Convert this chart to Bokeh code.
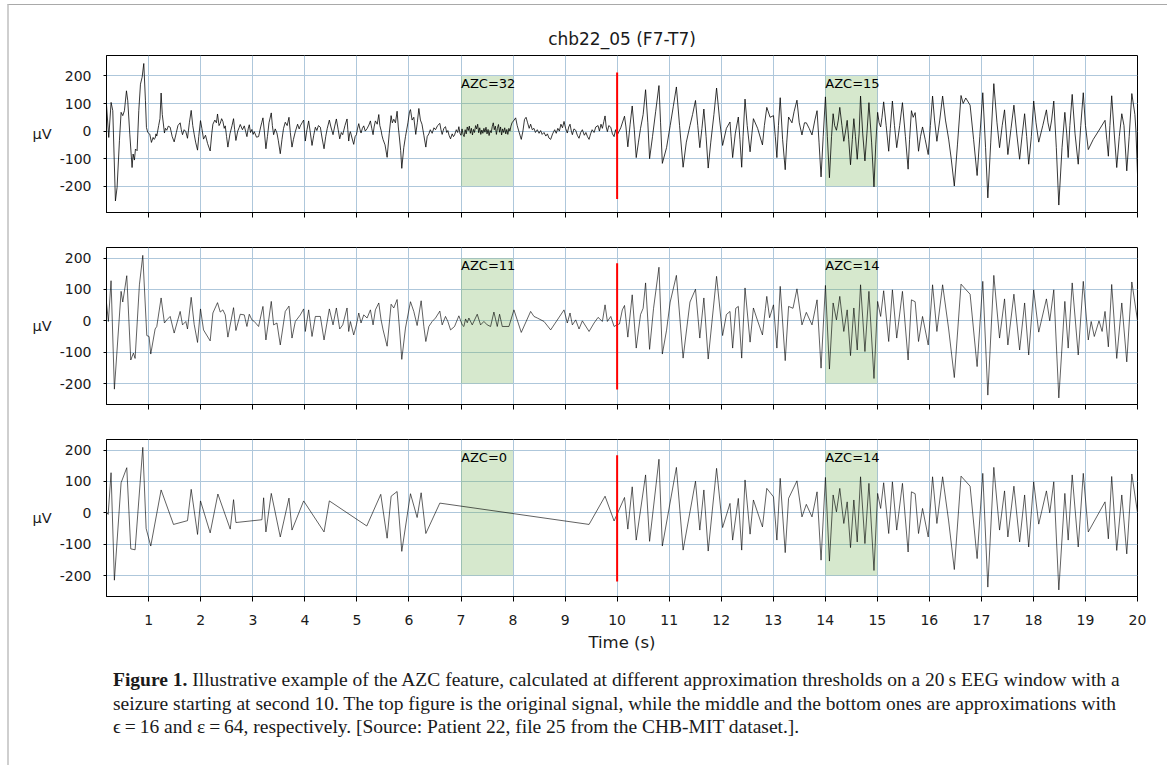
from bokeh.plotting import figure
from bokeh.models import Range1d, FixedTicker, Div
from bokeh.layouts import column
from bokeh.embed import file_html
from bokeh.resources import INLINE
from bokeh.core.properties import value

TITLE = "chb22_05 (F7-T7)"
X_START, X_END = 0.1875, 20.0
x_ticks = list(range(1, 21))
y_ticks = [-200, -100, 0, 100, 200]
y_tick_labels = {-200: "-200", -100: "-100", 0: "0", 100: "100", 200: "200"}
azc_left = [7, 14]
azc_right = [8, 15]
azc_bottom, azc_top = -200, 200
azc_labels = [["AZC=32", "AZC=15"], ["AZC=11", "AZC=14"], ["AZC=0", "AZC=14"]]
seizure_onset = 10
seizure_marker = [(-246, 212), (-219, 184), (-219, 184)]
y_ranges = [(-295, 274), (-267, 234), (-267, 234)]

caption_lines = [
    "<b>Figure 1.</b> Illustrative example of the AZC feature, calculated at different approximation thresholds on a 20&#8201;s EEG window with a",
    "seizure starting at second 10. The top figure is the original signal, while the middle and the bottom ones are approximations with",
    "&#1013;&#8201;=&#8201;16 and &#949;&#8201;=&#8201;64, respectively. [Source: Patient 22, file 25 from the CHB-MIT dataset.].",
]

# original signal
sig1 = [
    (0.1875, 95), (0.231, -23), (0.276, 104), (0.308, 74), (0.359, -253), (0.391, -204), (0.436, -35),
    (0.468, 68), (0.5, 56), (0.532, 74), (0.571, 146), (0.596, 110), (0.635, -11), (0.679, -132),
    (0.699, -83), (0.724, -105), (0.744, -65), (0.776, -71), (0.808, 74), (0.84, 170), (0.872, 195),
    (0.904, 245), (0.936, 110), (0.955, 13), (0.981, -5), (1.019, -11), (1.051, -41), (1.083, -23),
    (1.10, -30), (1.122, -26), (1.138, -10), (1.154, -18), (1.19, 20), (1.215, 45), (1.237, 138),
    (1.26, 60), (1.301, -7), (1.32, 10), (1.346, 3), (1.375, 18), (1.411, 14), (1.45, -20),
    (1.488, -39), (1.53, -5), (1.56, 20), (1.603, 30), (1.625, 5), (1.648, -13), (1.68, 5),
    (1.712, -2), (1.744, -26), (1.78, 30), (1.815, 75), (1.845, 20), (1.872, -11), (1.90, -40),
    (1.937, -69), (1.96, -20), (1.994, 38), (2.02, 10), (2.052, -29), (2.09, -15), (2.13, -45),
    (2.18, -72), (2.21, -10), (2.232, 25), (2.27, 40), (2.30, 30), (2.321, 62), (2.35, 20),
    (2.373, 28), (2.40, 45), (2.424, 35), (2.45, 10), (2.469, 19), (2.495, -20), (2.52, -58),
    (2.56, -10), (2.60, 20), (2.629, 45), (2.65, 5), (2.674, -34), (2.71, 0), (2.735, 12),
    (2.758, 24), (2.80, 5), (2.835, 19), (2.86, 0), (2.886, -20), (2.91, 8), (2.931, 23),
    (2.955, -5), (2.982, 6), (3.005, -12), (3.027, -2), (3.07, -22), (3.11, -20), (3.15, 15),
    (3.17, 30), (3.194, 48), (3.22, 0), (3.251, -64), (3.28, -20), (3.31, 30), (3.354, 66),
    (3.375, 20), (3.399, -13), (3.43, 8), (3.463, -7), (3.49, -35), (3.527, -82), (3.56, -30),
    (3.59, 10), (3.623, 32), (3.66, 20), (3.694, 50), (3.72, -5), (3.752, -58), (3.78, -30),
    (3.816, -2), (3.86, 25), (3.89, 8), (3.912, 19), (3.945, 30), (3.976, 40), (3.992, 0),
    (4.008, -36), (4.04, 5), (4.072, 37), (4.10, 0), (4.137, -52), (4.17, -15), (4.201, 14),
    (4.23, 2), (4.26, 20), (4.297, 14), (4.33, -25), (4.368, -64), (4.40, -20), (4.43, 10),
    (4.47, 40), (4.50, 15), (4.541, -13), (4.57, 15), (4.605, 44), (4.64, 5), (4.669, -28),
    (4.70, -5), (4.727, -13), (4.77, 20), (4.81, 44), (4.825, 5), (4.842, -36), (4.86, -10),
    (4.874, -2), (4.905, -25), (4.938, -48), (4.965, -20), (4.99, -13), (5.01, 8), (5.035, 27),
    (5.06, 5), (5.079, -7), (5.105, 10), (5.131, 19), (5.16, 0), (5.195, 9), (5.23, 22),
    (5.259, 37), (5.285, 10), (5.31, -13), (5.33, 15), (5.355, 37), (5.39, 25), (5.42, 60),
    (5.44, 20), (5.464, 3), (5.48, -15), (5.503, -31), (5.54, -50), (5.58, -95), (5.62, -10),
    (5.657, 56), (5.68, 30), (5.708, 43), (5.74, 30), (5.772, 72), (5.795, 15), (5.817, -25),
    (5.84, -70), (5.862, -135), (5.90, -60), (5.933, -20), (5.98, 30), (6.01, 70), (6.029, 78),
    (6.06, 40), (6.093, 50), (6.13, -12), (6.16, 30), (6.19, 82), (6.22, 40), (6.25, 25),
    (6.286, -15), (6.324, -58), (6.35, -20), (6.382, -10), (6.41, 5), (6.446, -8), (6.48, 12),
    (6.51, 5), (6.55, 20), (6.593, 28), (6.615, 5), (6.638, -12), (6.67, 10), (6.702, 16),
    (6.725, -5), (6.747, 2), (6.77, -15), (6.799, -28), (6.83, -10), (6.855, -20), (6.876, -14),
    (6.91, 5), (6.935, -5), (6.959, 16), (6.98, -8),
    (7.00, -15), (7.02, 8), (7.04, -12), (7.06, -20), (7.08, 5), (7.10, -10), (7.12, 15),
    (7.14, 2), (7.16, 18), (7.18, -8), (7.20, 10), (7.22, -14), (7.24, 6), (7.26, -5), (7.28, 20),
    (7.30, 8), (7.32, 25), (7.34, -6), (7.36, 12), (7.38, -12), (7.40, 4), (7.42, -8), (7.44, 10),
    (7.46, -4), (7.48, 14), (7.50, -10), (7.52, 6), (7.54, -16), (7.56, 2), (7.58, -6), (7.60, 16),
    (7.62, 30), (7.64, 5), (7.66, 18), (7.68, -12), (7.70, 10), (7.72, 24), (7.74, -4), (7.76, 15),
    (7.78, -14), (7.80, 8), (7.82, -5), (7.84, 12), (7.86, -10), (7.88, 6), (7.90, -12), (7.92, 10),
    (7.94, 0), (7.96, 18), (7.98, 30),
    (8.02, 40), (8.05, 48), (8.08, 20), (8.11, 0), (8.158, -30), (8.19, 0), (8.22, 42), (8.25, 50),
    (8.28, 30), (8.31, 10), (8.338, 25), (8.37, 5), (8.402, 10), (8.43, -5), (8.466, 5), (8.50, -8),
    (8.53, 2), (8.56, -12), (8.595, -5), (8.63, -18), (8.66, -10), (8.69, -25), (8.723, -30),
    (8.76, -10), (8.80, 5), (8.83, -8), (8.86, 10), (8.89, 0), (8.92, 25), (8.95, 12), (8.98, 35),
    (9.01, 10), (9.043, -7), (9.07, 15), (9.095, 25), (9.12, 0), (9.14, -13), (9.17, 8), (9.204, 3),
    (9.235, -15), (9.268, -26), (9.30, -5), (9.332, 5), (9.37, -15), (9.40, -5), (9.43, -20),
    (9.461, -30), (9.49, -10), (9.52, 5), (9.557, -5), (9.59, 15), (9.634, 20), (9.66, 0),
    (9.69, 25), (9.717, 10), (9.745, 35), (9.768, 55), (9.79, 15), (9.813, -2), (9.84, 20),
    (9.878, 14), (9.91, -10), (9.942, -20), (9.97, 5),
    (10.00, -15), (10.07, 12), (10.142, 54), (10.17, 15), (10.206, -57), (10.25, 25), (10.29, 91),
    (10.33, 5), (10.367, -96), (10.41, -40), (10.45, 10), (10.50, 60), (10.547, 150), (10.59, 30),
    (10.624, -100), (10.68, -20), (10.74, 70), (10.804, 165), (10.835, 30), (10.869, -117),
    (10.95, -60), (11.02, 20), (11.08, 90), (11.139, 160), (11.20, 20), (11.268, -131), (11.33, -40),
    (11.40, 20), (11.45, 60), (11.506, 111), (11.55, 20), (11.589, -60), (11.63, 10), (11.667, 80),
    (11.71, -20), (11.75, -134), (11.80, -40), (11.86, 60), (11.911, 156), (11.97, 40), (12.027, -52),
    (12.10, 10), (12.169, 33), (12.19, -20), (12.22, -96), (12.27, -10), (12.329, 51), (12.36, -30),
    (12.394, -131), (12.42, -20), (12.458, 116), (12.50, 20), (12.555, -75), (12.59, -10),
    (12.619, 45), (12.70, 10), (12.793, -50), (12.83, 20), (12.876, 86), (12.94, 50), (13.005, 56),
    (13.04, -20), (13.07, -96), (13.10, 20), (13.134, 121), (13.18, -30), (13.23, -140), (13.26, -40),
    (13.295, 51), (13.36, 30), (13.40, 70), (13.456, 112), (13.50, 30), (13.552, -14), (13.60, 30),
    (13.636, 30), (13.69, 10), (13.745, -14), (13.80, 40), (13.842, 74), (13.88, -40), (13.919, -166),
    (13.96, -20), (14.003, 124), (14.04, -20), (14.08, -169), (14.12, -20), (14.151, 63), (14.18, 20),
    (14.215, 3), (14.25, 40), (14.279, 86), (14.32, 20), (14.356, -37), (14.39, 0), (14.421, 39),
    (14.45, -30), (14.485, -122), (14.52, -30), (14.549, 45), (14.58, -20), (14.614, -102),
    (14.65, -10), (14.678, 127), (14.72, -10), (14.762, -108), (14.80, -10), (14.839, 103),
    (14.89, -40), (14.936, -202), (14.97, -50), (15.006, 68), (15.035, 30), (15.064, 15), (15.09, 50),
    (15.122, 106), (15.17, 20), (15.219, -73), (15.25, 10), (15.29, 109), (15.33, 20), (15.373, -60),
    (15.43, 20), (15.483, 103), (15.54, -20), (15.592, -138), (15.62, -30), (15.656, 74), (15.69, 50),
    (15.727, 67), (15.76, 0), (15.792, -73), (15.83, -20), (15.869, 15), (15.92, -30), (15.978, -85),
    (16.02, 20), (16.062, 127), (16.10, 40), (16.145, -37), (16.20, 40), (16.255, 127), (16.31, 40),
    (16.371, -29), (16.42, -100), (16.48, -199), (16.54, -50), (16.609, 129), (16.65, 100),
    (16.70, 120), (16.783, 94), (16.85, -30), (16.918, -161), (16.97, -20), (17.027, 139),
    (17.08, -60), (17.124, -242), (17.18, -40), (17.239, 172), (17.30, 30), (17.349, -60),
    (17.40, 20), (17.445, 77), (17.48, -10), (17.509, -85), (17.57, 10), (17.625, 94), (17.68, -10),
    (17.735, -102), (17.78, -20), (17.831, 63), (17.87, -20), (17.909, -120), (17.96, -20),
    (18.005, 109), (18.05, 30), (18.102, -40), (18.18, 20), (18.25, 77), (18.28, 30), (18.314, 0),
    (18.35, 40), (18.391, 109), (18.44, -60), (18.488, -268), (18.55, -60), (18.604, 68),
    (18.64, -10), (18.668, -96), (18.70, 20), (18.745, 133), (18.80, -10), (18.861, -120),
    (18.91, 20), (18.958, 139), (19.00, 20), (19.054, -67), (19.15, -30), (19.25, 0), (19.376, 39),
    (19.41, -30), (19.44, -91), (19.47, 20), (19.504, 128), (19.55, 0), (19.601, -132), (19.65, -20),
    (19.698, 63), (19.74, 20), (19.794, -144), (19.84, -20), (19.891, 136), (19.95, 60),
    (19.97, 0), (20.0, -157),
]

# approximation, epsilon = 16
sig2 = [
    (0.1875, 57), (0.224, -2), (0.275, 128), (0.339, -218), (0.468, 94), (0.5, 60), (0.577, 144),
    (0.654, -125), (0.705, -103), (0.737, -120), (0.82, 115), (0.885, 209), (0.962, -47),
    (1.006, -50), (1.038, -106), (1.122, -26), (1.154, -18), (1.237, 73), (1.301, -7), (1.346, 3),
    (1.411, 14), (1.488, -39), (1.603, 30), (1.648, -13), (1.712, -2), (1.744, -26), (1.815, 75),
    (1.872, -11), (1.937, -69), (1.994, 38), (2.052, -29), (2.18, -64), (2.232, 25), (2.321, 58),
    (2.373, 28), (2.424, 35), (2.469, 19), (2.52, -52), (2.629, 42), (2.674, -31), (2.758, 21),
    (2.835, 19), (2.886, -18), (2.931, 21), (2.982, 3), (3.027, -2), (3.11, -18), (3.194, 46),
    (3.251, -61), (3.354, 62), (3.399, -13), (3.463, -7), (3.527, -77), (3.623, 30), (3.694, 47),
    (3.752, -55), (3.816, -2), (3.912, 19), (3.976, 38), (4.008, -34), (4.072, 35), (4.137, -50),
    (4.201, 14), (4.297, 14), (4.368, -61), (4.47, 38), (4.541, -13), (4.605, 41), (4.669, -26),
    (4.727, -13), (4.81, 41), (4.842, -34), (4.874, -2), (4.938, -45), (4.99, -13), (5.035, 25),
    (5.079, -7), (5.131, 19), (5.195, 9), (5.259, 35), (5.31, -13), (5.355, 35), (5.42, 57),
    (5.464, 3), (5.503, -29), (5.58, -81), (5.657, 53), (5.708, 41), (5.772, 68), (5.817, -23),
    (5.862, -123), (5.933, -23), (6.029, 61), (6.093, 30), (6.157, -15), (6.234, 64), (6.286, -18),
    (6.324, -66), (6.382, -18), (6.446, -2), (6.51, 9), (6.593, 31), (6.638, -13), (6.702, 14),
    (6.747, -2), (6.799, -29), (6.876, -18), (6.959, 16), (7.023, -13), (7.055, -18), (7.088, 6),
    (7.12, -6), (7.151, 9), (7.216, -13), (7.312, 21), (7.376, -13), (7.44, -2), (7.504, -13),
    (7.568, -18), (7.632, 28), (7.697, -18), (7.741, 21), (7.793, -18), (7.921, -18), (8.017, 35),
    (8.158, -37), (8.338, 30), (8.402, 14), (8.466, 9), (8.595, -2), (8.723, -29), (8.98, 35),
    (9.043, -7), (9.095, 25), (9.14, -13), (9.204, 3), (9.268, -26), (9.332, 0), (9.461, -34),
    (9.557, -7), (9.634, 11), (9.717, -2), (9.768, 51), (9.813, -2), (9.878, 14), (9.942, -18),
    (9.993, -13),
    (10.045, -10), (10.10, 35), (10.142, 49), (10.206, -52), (10.29, 83), (10.367, -87), (10.45, 20),
    (10.50, 40), (10.547, 121), (10.624, -91), (10.70, 40), (10.804, 171), (10.869, -106),
    (10.95, -30), (11.02, 60), (11.139, 145), (11.268, -119), (11.40, 60), (11.506, 101),
    (11.589, -55), (11.667, 73), (11.75, -122), (11.911, 142), (12.027, -47), (12.10, 20),
    (12.169, 30), (12.22, -87), (12.28, 40), (12.329, 46), (12.394, -119), (12.458, 105),
    (12.555, -68), (12.619, 41), (12.70, 0), (12.793, -45), (12.85, 40), (12.876, 78), (12.93, 10),
    (13.005, 51), (13.07, -87), (13.134, 110), (13.23, -127), (13.295, 46), (13.38, 40),
    (13.456, 102), (13.552, -13), (13.636, 27), (13.745, -13), (13.842, 67), (13.919, -151),
    (14.003, 113), (14.08, -154), (14.151, 57), (14.215, 3), (14.279, 78), (14.356, -34),
    (14.421, 35), (14.485, -111), (14.549, 41), (14.614, -93), (14.678, 115), (14.762, -98),
    (14.839, 94), (14.936, -184), (15.006, 62), (15.064, 14), (15.122, 96), (15.219, -66),
    (15.29, 99), (15.373, -55), (15.483, 94), (15.592, -125), (15.656, 67), (15.727, 61),
    (15.792, -66), (15.869, 14), (15.978, -77), (16.062, 115), (16.145, -34), (16.255, 115),
    (16.371, -26), (16.48, -181), (16.609, 117), (16.70, 100), (16.783, 85), (16.918, -146),
    (17.027, 126), (17.124, -237), (17.239, 145), (17.349, -55), (17.445, 70), (17.509, -77),
    (17.625, 85), (17.735, -93), (17.831, 57), (17.909, -109), (18.005, 99), (18.102, -36),
    (18.25, 70), (18.314, 0), (18.391, 99), (18.488, -246), (18.604, 62), (18.668, -87),
    (18.745, 121), (18.861, -109), (18.958, 126), (19.054, -61), (19.11, -2), (19.17, -50),
    (19.26, 0), (19.32, -34), (19.376, 30), (19.44, -83), (19.504, 116), (19.601, -120),
    (19.698, 57), (19.794, -131), (19.891, 124), (20.0, 1),
]

# approximation, epsilon = 64
sig3 = [
    (0.1875, 2), (0.22, -5), (0.275, 128), (0.339, -215), (0.468, 96), (0.577, 144), (0.654, -115),
    (0.737, -118), (0.885, 209), (0.949, -50), (1.038, -106), (1.237, 73), (1.475, -37),
    (1.744, -25), (1.815, 75), (1.937, -69), (1.994, 38), (2.18, -64), (2.328, 60), (2.565, -52),
    (2.629, 42), (2.674, -31), (3.174, -22), (3.207, 48), (3.251, -61), (3.354, 62), (3.527, -77),
    (3.694, 47), (3.752, -55), (3.976, 38), (4.368, -61), (4.47, 38), (5.189, -42), (5.458, 59),
    (5.58, -81), (5.657, 53), (5.772, 68), (5.862, -123), (6.029, 61), (6.157, -15), (6.234, 64),
    (6.324, -66), (6.593, 31), (9.461, -37), (9.768, 53), (9.942, -26),
    (10.142, 49), (10.206, -52), (10.29, 83), (10.367, -87), (10.547, 121), (10.624, -91),
    (10.804, 171), (10.869, -106), (11.139, 145), (11.268, -119), (11.506, 101), (11.589, -55),
    (11.667, 73), (11.75, -122), (11.911, 142), (12.027, -47), (12.169, 30), (12.22, -87),
    (12.329, 46), (12.394, -119), (12.458, 105), (12.555, -68), (12.619, 41), (12.793, -45),
    (12.876, 78), (13.005, 51), (13.07, -87), (13.134, 110), (13.23, -127), (13.295, 46),
    (13.456, 102), (13.552, -13), (13.636, 27), (13.745, -13), (13.842, 67), (13.919, -151),
    (14.003, 113), (14.08, -154), (14.151, 57), (14.215, 3), (14.279, 78), (14.356, -34),
    (14.421, 35), (14.485, -111), (14.549, 41), (14.614, -93), (14.678, 115), (14.762, -98),
    (14.839, 94), (14.936, -184), (15.006, 62), (15.064, 14), (15.122, 96), (15.219, -66),
    (15.29, 99), (15.373, -55), (15.483, 94), (15.592, -125), (15.656, 67), (15.727, 61),
    (15.792, -66), (15.869, 14), (15.978, -77), (16.062, 115), (16.145, -34), (16.255, 115),
    (16.371, -26), (16.48, -181), (16.609, 117), (16.783, 85), (16.918, -146), (17.027, 126),
    (17.124, -237), (17.239, 145), (17.349, -55), (17.445, 70), (17.509, -77), (17.625, 85),
    (17.735, -93), (17.831, 57), (17.909, -109), (18.005, 99), (18.102, -36), (18.25, 70),
    (18.314, 0), (18.391, 99), (18.488, -246), (18.604, 62), (18.668, -87), (18.745, 121),
    (18.861, -109), (18.958, 126), (19.054, -61), (19.376, 35), (19.44, -83), (19.504, 116),
    (19.601, -120), (19.698, 57), (19.794, -131), (19.891, 124), (20.0, 1),
]

signals = [sig1, sig2, sig3]
FONT = "DejaVu Sans"
GRID = "#aec7db"
TEXT = "#1a1a1a"


def make_panel(i):
    last = i == 2
    heights = [224, 192, 239]
    tops = [50, 18, 18]
    bottoms = [17, 17, 64]
    p = figure(
        width=1153, height=heights[i],
        x_range=Range1d(X_START, X_END), y_range=Range1d(*y_ranges[i]),
        output_backend="svg", toolbar_location=None,
        min_border_left=97, min_border_right=25,
        min_border_top=tops[i], min_border_bottom=bottoms[i],
        title=TITLE if i == 0 else None,
    )
    p.background_fill_color = "white"
    p.border_fill_color = "white"
    p.outline_line_color = "black"
    p.outline_line_alpha = 1.0
    if i == 0:
        p.title.text_font = FONT
        p.title.text_font_size = "17px"
        p.title.text_font_style = "normal"
        p.title.text_color = TEXT
        p.title.align = "center"
        p.title.standoff = 13

    p.xgrid.ticker = FixedTicker(ticks=x_ticks)
    p.ygrid.ticker = FixedTicker(ticks=y_ticks)
    for g in (p.xgrid, p.ygrid):
        g.grid_line_color = GRID
        g.grid_line_alpha = 1.0
        g.grid_line_width = 1

    xa = p.xaxis[0]
    xa.ticker = FixedTicker(ticks=x_ticks)
    xa.axis_line_color = "black"
    xa.major_tick_line_color = "black"
    xa.major_tick_out = 5
    xa.major_tick_in = 0
    xa.minor_tick_line_color = None
    xa.major_label_text_font = FONT
    if last:
        xa.major_label_text_font_size = "14px"
        xa.major_label_text_color = TEXT
        xa.major_label_standoff = 13
        xa.axis_label = "Time (s)"
        xa.axis_label_text_font = FONT
        xa.axis_label_text_font_size = "16.5px"
        xa.axis_label_text_font_style = "normal"
        xa.axis_label_text_color = TEXT
        xa.axis_label_standoff = 5
    else:
        xa.major_label_text_font_size = "1px"
        xa.major_label_text_color = None
        xa.major_label_standoff = 0

    ya = p.yaxis[0]
    ya.ticker = FixedTicker(ticks=y_ticks)
    ya.major_label_overrides = y_tick_labels
    ya.axis_line_color = "black"
    ya.major_tick_line_color = "black"
    ya.major_tick_out = 3
    ya.major_tick_in = 0
    ya.minor_tick_line_color = None
    ya.major_label_text_font = FONT
    ya.major_label_text_font_size = "14px"
    ya.major_label_text_color = TEXT
    ya.major_label_standoff = 12
    ya.axis_label = "μV"
    ya.axis_label_orientation = "horizontal"
    ya.axis_label_text_font = FONT
    ya.axis_label_text_font_size = "14.5px"
    ya.axis_label_text_font_style = "normal"
    ya.axis_label_text_color = TEXT
    ya.axis_label_standoff = 5

    p.quad(left=azc_left, right=azc_right, bottom=azc_bottom, top=azc_top,
           fill_color="#78b45a", fill_alpha=0.3, line_color=None)

    t = [a for a, b in signals[i]]
    v = [b for a, b in signals[i]]
    p.line(t, v, line_color="black", line_alpha=0.78 if i == 0 else 0.62, line_width=1)

    p.text(x=azc_left, y=[azc_top, azc_top], text=azc_labels[i],
           text_font=value(FONT), text_font_size="13px", text_color="black",
           text_align="left", text_baseline="top")

    lo, hi = seizure_marker[i]
    p.segment(x0=[seizure_onset], y0=[lo], x1=[seizure_onset], y1=[hi],
              line_color="red", line_width=2)
    return p


panels = [make_panel(i) for i in range(3)]

caption = Div(
    text='<div style="font-family: \'Liberation Serif\', serif; font-size: 19.5px; '
         'line-height: 23.5px; color: #1a1a1a; padding-left: 99px; padding-top: 3px; '
         'white-space: nowrap;">' + "<br>".join(caption_lines) + "</div>",
    width=1153, height=103,
)

layout = column(
    *panels, caption, spacing=0,
    styles={
        "margin-left": "7px", "margin-top": "4px",
        "border-left": "2px solid #cfcfcf", "border-right": "3px solid #d6d6d6",
        "border-top": "1px solid #a9a9a9",
    },
)

with open("out.html", "w", encoding="utf-8") as f:
    f.write(file_html(layout, INLINE, title="chb22_05"))
